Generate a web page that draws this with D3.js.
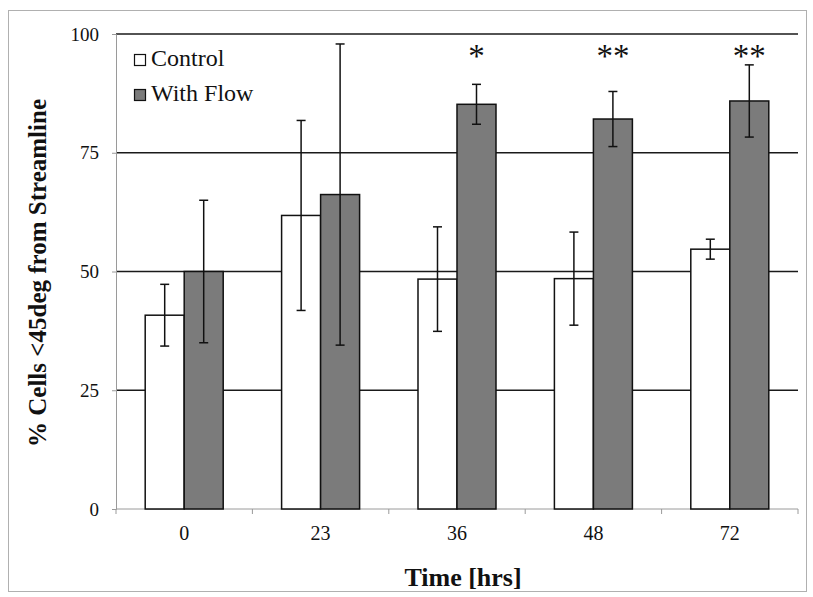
<!DOCTYPE html>
<html>
<head>
<meta charset="utf-8">
<script src="https://cdn.jsdelivr.net/npm/d3@7"></script>
<style>
  html, body { margin: 0; padding: 0; background: #fff; }
  svg { display: block; }
  svg text { font-family: 'Liberation Serif', 'Times New Roman', serif; fill: #111; }
</style>
</head>
<body>
<svg id="chart" width="813" height="597"></svg>
<script>
// Time points (hours) and the two measured groups
const timePoints = ["0", "23", "36", "48", "72"];
const seriesNames = ["Control", "With Flow"];
const controlMean = [40.8, 61.8, 48.4, 48.5, 54.7];
const controlErr  = [6.5, 20.0, 11.0, 9.8, 2.1];
const flowMean    = [50.0, 66.2, 85.2, 82.1, 85.9];
const flowErr     = [15.0, 31.7, 4.2, 5.8, 7.6];
const significance = ["", "", "*", "**", "**"];
const yTicks = [0, 25, 50, 75, 100];

const SERIF = "'Liberation Serif', 'Times New Roman', serif";
const svg = d3.select("#chart").attr("font-family", SERIF);
const plot = { left: 116, right: 798, top: 34, bottom: 509 };

// outer frame
svg.append("rect")
  .attr("x", 8.5).attr("y", 10.5)
  .attr("width", 798).attr("height", 581)
  .attr("fill", "none").attr("stroke", "#b0b0b0").attr("stroke-width", 1);

const x = d3.scaleBand().domain(timePoints).range([plot.left, plot.right]).padding(0);
const barW = 39;
const xs = d3.scaleBand().domain(seriesNames)
  .range([x.bandwidth() / 2 - barW, x.bandwidth() / 2 + barW]).padding(0);
const y = d3.scaleLinear().domain([0, 100]).range([plot.bottom, plot.top]);

// horizontal gridlines (drawn first so the bars sit over them)
svg.append("g").selectAll("line")
  .data(yTicks.filter(t => t > 0))
  .join("line")
  .attr("x1", plot.left).attr("x2", plot.right)
  .attr("y1", d => y(d)).attr("y2", d => y(d))
  .attr("stroke", "#1a1a1a").attr("stroke-width", 1.6);

// y axis
const yAxis = svg.append("g")
  .attr("transform", `translate(${plot.left},0)`)
  .call(d3.axisLeft(y).tickValues(yTicks).tickSize(4).tickPadding(13));
yAxis.attr("font-family", SERIF);
yAxis.select(".domain").attr("stroke", "#9a9a9a");
yAxis.selectAll(".tick line").attr("stroke", "#9a9a9a");
yAxis.selectAll(".tick text")
  .style("font-family", SERIF)
  .style("font-size", "19px").attr("fill", "#111");

// x axis with ticks between the groups
const xAxisG = svg.append("g").attr("transform", `translate(0,${plot.bottom})`);
xAxisG.append("line")
  .attr("x1", plot.left).attr("x2", plot.right)
  .attr("y1", 0).attr("y2", 0)
  .attr("stroke", "#9a9a9a").attr("stroke-width", 1);
const boundaries = timePoints.map(t => x(t)).concat([plot.right]);
xAxisG.selectAll("line.sep").data(boundaries).join("line")
  .attr("class", "sep")
  .attr("x1", d => d).attr("x2", d => d)
  .attr("y1", 0).attr("y2", 5)
  .attr("stroke", "#9a9a9a");
xAxisG.selectAll("text").data(timePoints).join("text")
  .attr("x", d => x(d) + x.bandwidth() / 2)
  .attr("y", 31)
  .attr("text-anchor", "middle")
  .style("font-family", SERIF)
  .style("font-size", "20px")
  .text(d => d);

// bars
const rows = timePoints.map((t, i) => ({
  t,
  vals: [
    { s: "Control", v: controlMean[i], e: controlErr[i] },
    { s: "With Flow", v: flowMean[i], e: flowErr[i] }
  ]
}));

const fills = { "Control": "#ffffff", "With Flow": "#7b7b7b" };

const groups = svg.append("g").selectAll("g")
  .data(rows).join("g")
  .attr("transform", d => `translate(${x(d.t)},0)`);

groups.selectAll("rect")
  .data(d => d.vals).join("rect")
  .attr("x", d => xs(d.s))
  .attr("y", d => y(d.v))
  .attr("width", xs.bandwidth())
  .attr("height", d => y(0) - y(d.v))
  .attr("fill", d => fills[d.s])
  .attr("stroke", "#111").attr("stroke-width", 1.5);

// error bars
const cap = 4.5;
const eb = groups.selectAll("g.err")
  .data(d => d.vals).join("g").attr("class", "err")
  .attr("stroke", "#111").attr("stroke-width", 1.5);
eb.append("line")
  .attr("x1", d => xs(d.s) + xs.bandwidth() / 2)
  .attr("x2", d => xs(d.s) + xs.bandwidth() / 2)
  .attr("y1", d => y(d.v + d.e)).attr("y2", d => y(d.v - d.e));
eb.append("line")
  .attr("x1", d => xs(d.s) + xs.bandwidth() / 2 - cap)
  .attr("x2", d => xs(d.s) + xs.bandwidth() / 2 + cap)
  .attr("y1", d => y(d.v + d.e)).attr("y2", d => y(d.v + d.e));
eb.append("line")
  .attr("x1", d => xs(d.s) + xs.bandwidth() / 2 - cap)
  .attr("x2", d => xs(d.s) + xs.bandwidth() / 2 + cap)
  .attr("y1", d => y(d.v - d.e)).attr("y2", d => y(d.v - d.e));

// significance markers above the flow bars
svg.append("g").selectAll("text")
  .data(timePoints.map((t, i) => ({ t, s: significance[i] })).filter(d => d.s))
  .join("text")
  .attr("x", d => x(d.t) + xs("With Flow") + xs.bandwidth() / 2)
  .attr("y", 67)
  .attr("text-anchor", "middle")
  .style("font-family", SERIF)
  .style("font-size", "33px")
  .text(d => d.s);

// legend
const legend = svg.append("g").attr("transform", "translate(134,0)");
const legendRows = legend.selectAll("g").data(seriesNames).join("g")
  .attr("transform", (d, i) => `translate(0,${66 + i * 35})`);
legendRows.append("rect")
  .attr("x", 0.5).attr("y", -11.5)
  .attr("width", 11).attr("height", 11)
  .attr("fill", d => fills[d]).attr("stroke", "#111").attr("stroke-width", 1.2);
legendRows.append("text")
  .attr("x", 17).attr("y", 0)
  .style("font-family", SERIF)
  .style("font-size", "24px")
  .text(d => d);

// axis titles
svg.append("text")
  .attr("x", 463)
  .attr("y", 586)
  .attr("text-anchor", "middle")
  .style("font-family", SERIF)
  .style("font-size", "26px").style("font-weight", "bold")
  .text("Time [hrs]");

svg.append("text")
  .attr("transform", `translate(46,273) rotate(-90)`)
  .attr("text-anchor", "middle")
  .style("font-family", SERIF)
  .style("font-size", "25px").style("font-weight", "bold")
  .text("% Cells <45deg from Streamline");
</script>
</body>
</html>
